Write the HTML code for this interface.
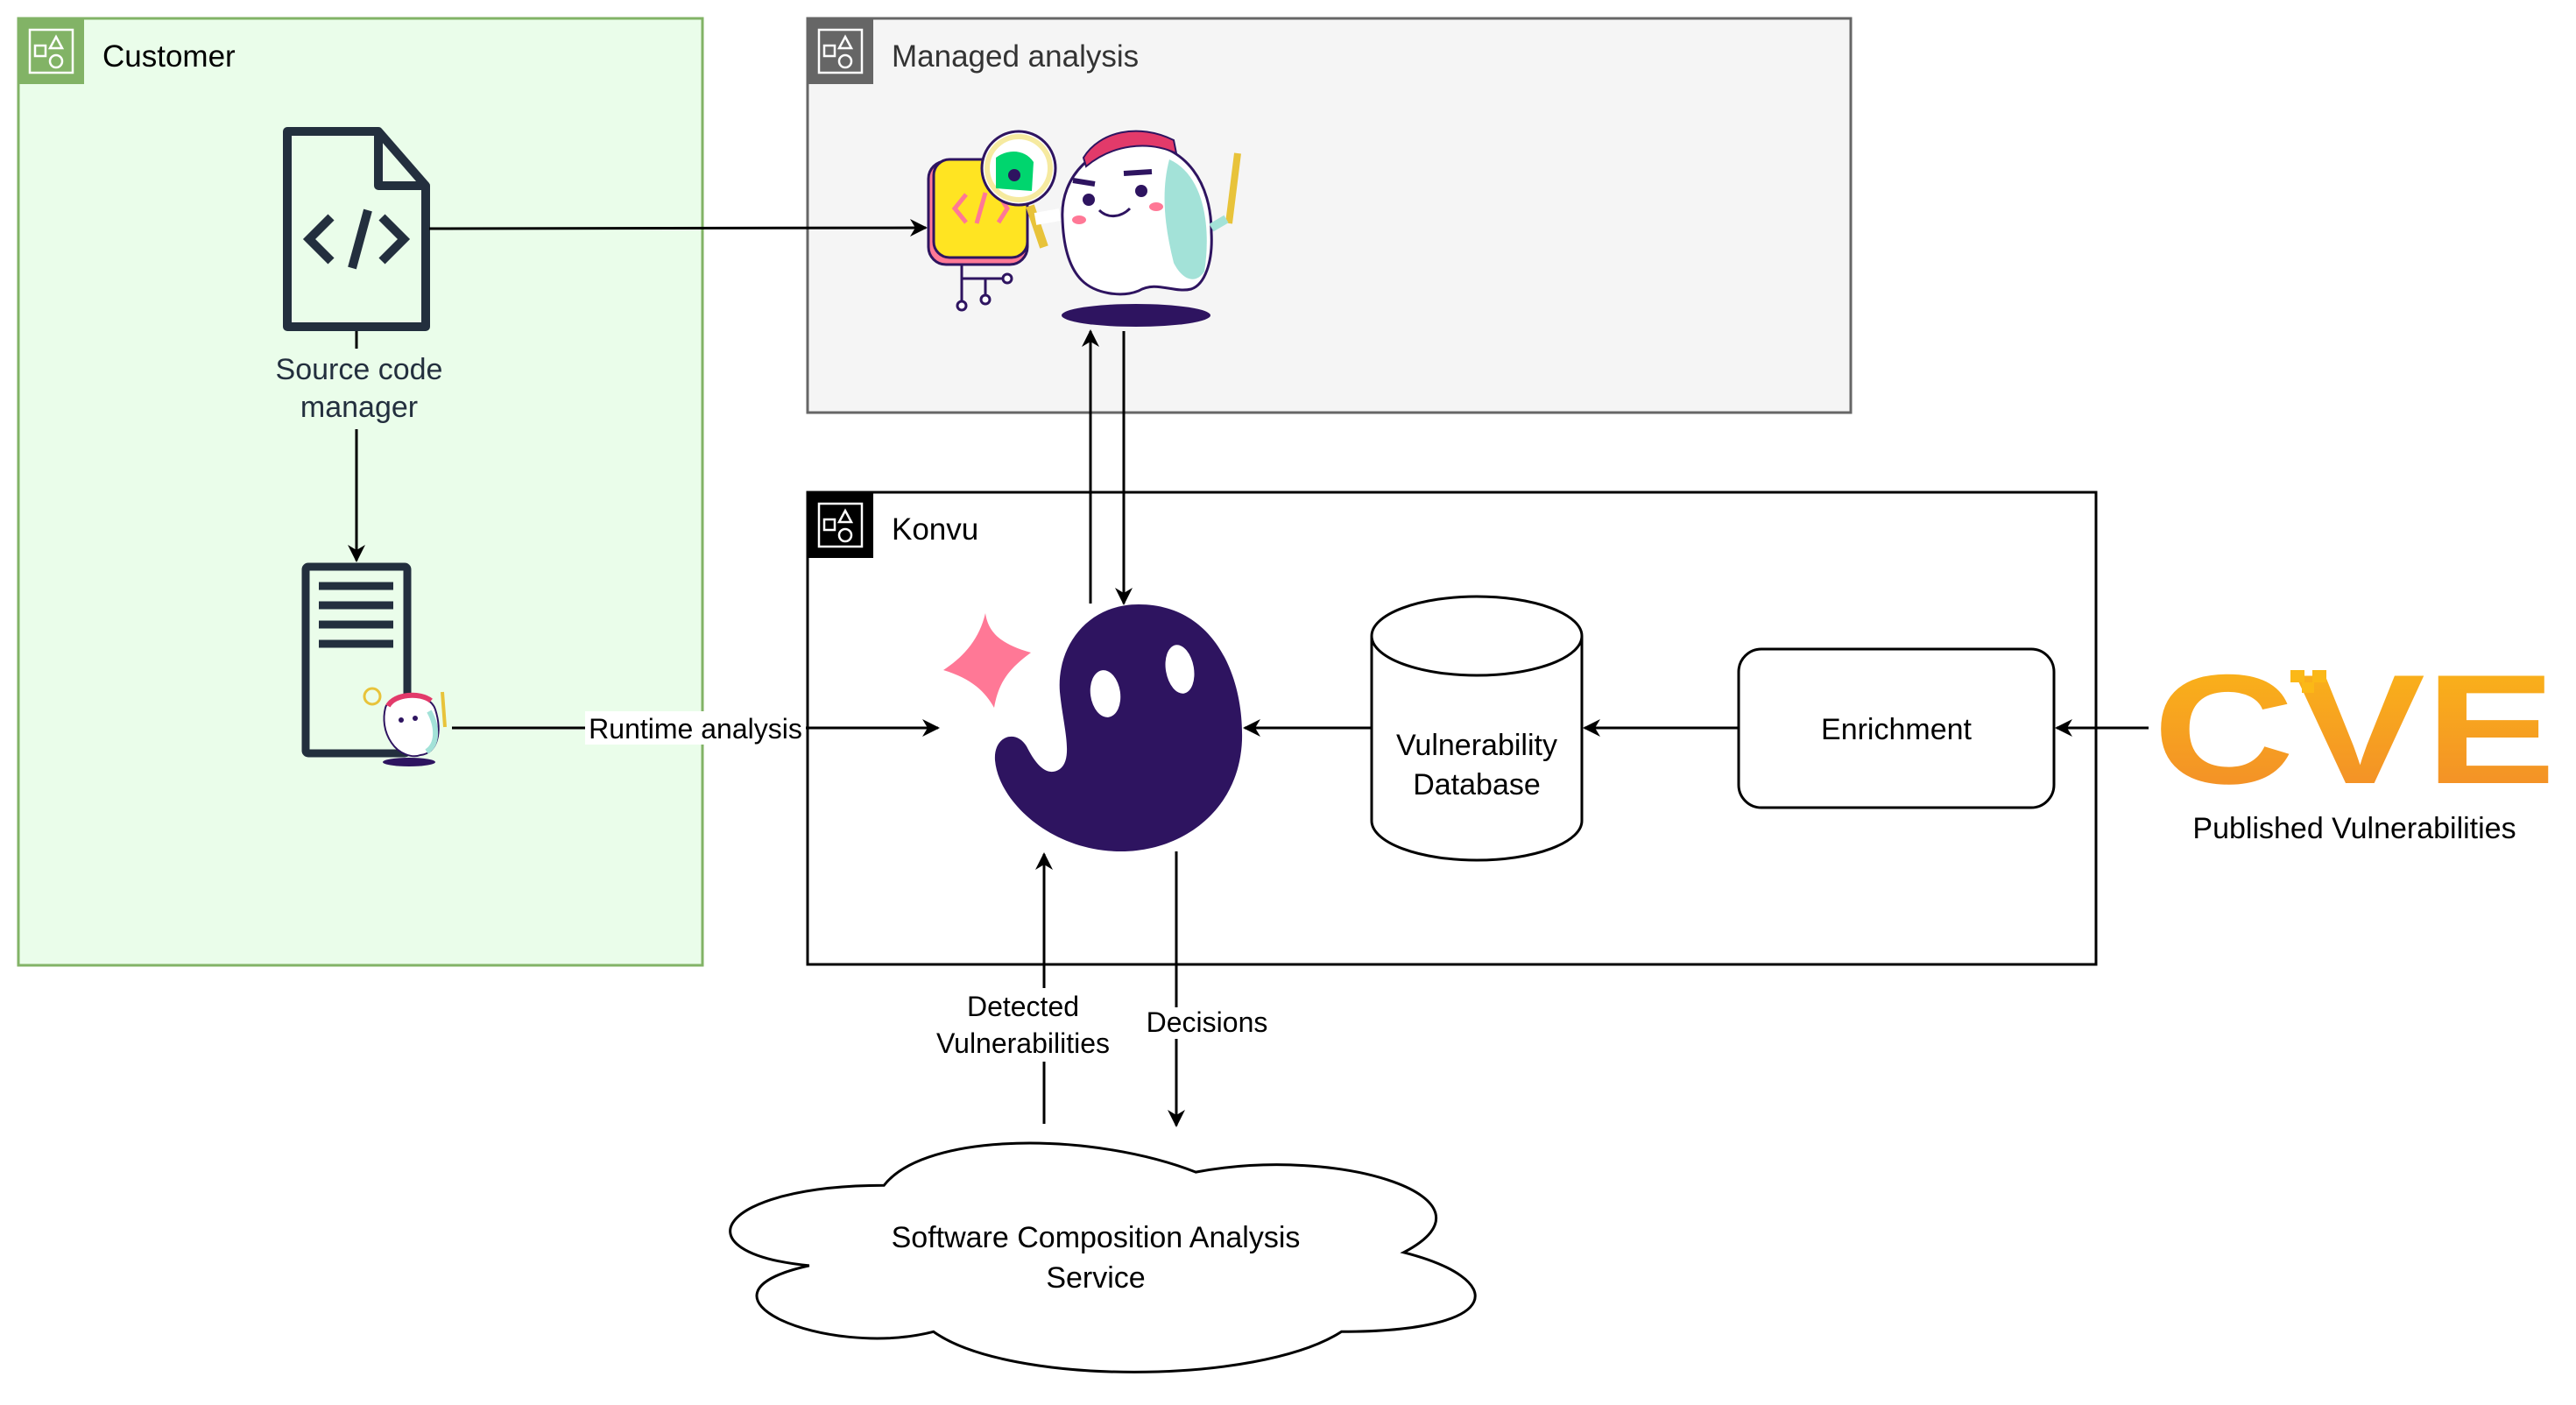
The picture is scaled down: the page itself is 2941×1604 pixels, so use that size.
<!DOCTYPE html>
<html><head><meta charset="utf-8"><style>
html,body{margin:0;padding:0;background:#fff;}
svg{display:block;}
text{font-family:"Liberation Sans",Arial,sans-serif;}
</style></head><body>
<svg width="2941" height="1604" viewBox="0 0 2941 1604" xmlns="http://www.w3.org/2000/svg">
<defs>
<marker id="ah" viewBox="0 0 20 20" refX="18" refY="10" markerWidth="20" markerHeight="20" markerUnits="userSpaceOnUse" orient="auto">
<path d="M0,0 L20,10 L0,20 L6,10 Z" fill="#000"/></marker>
<linearGradient id="cve" x1="0" y1="0" x2="0" y2="1"><stop offset="0" stop-color="#fbb817"/><stop offset="1" stop-color="#f28a2a"/></linearGradient>
</defs>

<!-- Customer group -->
<rect x="21" y="21" width="781" height="1081" fill="#eafdea" stroke="#82b366" stroke-width="3"/>
<rect x="21" y="21" width="75" height="75" fill="#82b366"/>
<g fill="none" stroke="#fff" stroke-width="2.5">
<rect x="34" y="34" width="49" height="49"/><rect x="40" y="52" width="12" height="12"/>
<path d="M64,42 L71,55 L57,55 Z"/><circle cx="64" cy="70" r="7"/></g>
<text x="117" y="76" font-size="35" fill="#000">Customer</text>

<!-- Managed analysis group -->
<rect x="922" y="21" width="1191" height="450" fill="#f5f5f5" stroke="#666" stroke-width="3" transform="translate(0,0)"/>
<rect x="922" y="21" width="75" height="75" fill="#666"/>
<g fill="none" stroke="#fff" stroke-width="2.5">
<rect x="935" y="34" width="49" height="49"/><rect x="941" y="52" width="12" height="12"/>
<path d="M965,42 L972,55 L958,55 Z"/><circle cx="965" cy="70" r="7"/></g>
<text x="1018" y="76" font-size="35" fill="#333">Managed analysis</text>

<!-- Konvu group -->
<rect x="922" y="562" width="1471" height="539" fill="#fff" stroke="#000" stroke-width="3"/>
<rect x="922" y="562" width="75" height="75" fill="#000"/>
<g fill="none" stroke="#fff" stroke-width="2.5">
<rect x="935" y="575" width="49" height="49"/><rect x="941" y="593" width="12" height="12"/>
<path d="M965,583 L972,596 L958,596 Z"/><circle cx="965" cy="611" r="7"/></g>
<text x="1018" y="616" font-size="35" fill="#000">Konvu</text>

<!-- Source code icon -->
<path d="M328,150 L432,150 L486,212 L486,373 L328,373 Z" fill="none" stroke="#232f3e" stroke-width="10" stroke-linejoin="round"/>
<path d="M432,150 L432,212 L486,212" fill="none" stroke="#232f3e" stroke-width="10" stroke-linejoin="round"/>
<path d="M378,248 L353,273 L378,298 M436,248 L461,273 L436,298 M420,240 L402,306" fill="none" stroke="#232f3e" stroke-width="10"/>
<rect x="308" y="398" width="204" height="92" fill="#eafdea"/>
<text x="410" y="433" font-size="34" fill="#232f3e" text-anchor="middle">Source code</text>
<text x="410" y="476" font-size="34" fill="#232f3e" text-anchor="middle">manager</text>
<line x1="407" y1="378" x2="407" y2="398" stroke="#000" stroke-width="3"/>
<line x1="407" y1="490" x2="407" y2="640" stroke="#000" stroke-width="3" marker-end="url(#ah)"/>

<!-- Server -->
<rect x="349" y="647" width="116" height="213" fill="none" stroke="#232f3e" stroke-width="9" rx="3"/>
<g stroke="#232f3e" stroke-width="9"><line x1="364" y1="669" x2="449" y2="669"/><line x1="364" y1="691" x2="449" y2="691"/><line x1="364" y1="713" x2="449" y2="713"/><line x1="364" y1="735" x2="449" y2="735"/></g>
<!-- small ghost -->
<ellipse cx="467" cy="870" rx="30" ry="5" fill="#2e1460"/>
<path d="M440,808 C445,790 490,788 497,810 C505,835 500,860 480,862 C470,866 455,860 447,848 C438,835 437,820 440,808 Z" fill="#fff" stroke="#2e1460" stroke-width="2"/>
<path d="M490,812 C500,830 500,850 487,858" fill="none" stroke="#a3e2d8" stroke-width="6"/>
<path d="M443,806 C450,792 480,790 492,800" fill="none" stroke="#e23a6a" stroke-width="6"/>
<circle cx="425" cy="795" r="9" fill="none" stroke="#e8c33a" stroke-width="3"/>
<circle cx="458" cy="822" r="3" fill="#2e1460"/><circle cx="474" cy="820" r="3" fill="#2e1460"/>
<line x1="505" y1="790" x2="508" y2="830" stroke="#e8c33a" stroke-width="4"/>

<!-- Runtime analysis arrow -->
<line x1="516" y1="831" x2="1071" y2="831" stroke="#000" stroke-width="3" marker-end="url(#ah)"/>
<rect x="668" y="812" width="252" height="38" fill="#fff"/>
<text x="794" y="843" font-size="32" fill="#000" text-anchor="middle">Runtime analysis</text>

<!-- Source -> managed -->
<line x1="490" y1="261" x2="1057" y2="260" stroke="#000" stroke-width="3" marker-end="url(#ah)"/>

<!-- Managed analysis illustration -->
<ellipse cx="1297" cy="360" rx="85" ry="13" fill="#2e1460"/>
<path d="M1098,302 L1098,345 M1098,318 L1150,318 M1125,318 L1125,338" stroke="#2e1460" stroke-width="3" fill="none"/>
<circle cx="1150" cy="318" r="5" fill="#fff" stroke="#2e1460" stroke-width="3"/>
<circle cx="1125" cy="342" r="5" fill="#fff" stroke="#2e1460" stroke-width="3"/>
<circle cx="1098" cy="349" r="5" fill="#fff" stroke="#2e1460" stroke-width="3"/>
<rect x="1060" y="184" width="113" height="118" rx="20" fill="#ff7896" stroke="#2e1460" stroke-width="3"/>
<rect x="1066" y="182" width="107" height="112" rx="18" fill="#ffe422" stroke="#2e1460" stroke-width="3"/>
<path d="M1103,222 L1090,238 L1103,254 M1125,220 L1115,255 M1140,222 L1150,238 L1140,254" fill="none" stroke="#ff7896" stroke-width="5"/>
<line x1="1176" y1="235" x2="1192" y2="282" stroke="#e8c33a" stroke-width="10"/>
<circle cx="1163" cy="192" r="42" fill="#fff" stroke="#2e1460" stroke-width="3"/>
<circle cx="1163" cy="192" r="36" fill="none" stroke="#f6eaa0" stroke-width="6"/>
<path d="M1137,180 C1150,170 1170,170 1180,185 L1178,218 L1137,215 Z" fill="#00d56e"/>
<circle cx="1158" cy="200" r="7" fill="#2e1460"/>
<path d="M1213,250 C1210,200 1250,163 1300,163 C1355,165 1383,210 1383,265 C1385,300 1375,325 1360,330 C1340,335 1320,320 1300,332 C1280,340 1250,335 1235,320 C1220,305 1214,280 1213,250 Z" fill="#fff" stroke="#2e1460" stroke-width="3"/>
<path d="M1335,182 C1375,200 1383,260 1375,310 C1365,325 1350,320 1340,300 C1330,260 1325,220 1335,182 Z" fill="#a3e2d8"/>
<path d="M1237,180 C1255,150 1300,140 1340,160 L1343,175 C1310,160 1270,165 1240,190 Z" fill="#e23a6a" stroke="#2e1460" stroke-width="2"/>
<circle cx="1243" cy="228" r="7" fill="#2e1460"/><circle cx="1303" cy="218" r="7" fill="#2e1460"/>
<path d="M1225,206 L1250,210 M1283,198 L1315,196" stroke="#2e1460" stroke-width="6"/>
<ellipse cx="1232" cy="251" rx="8" ry="5" fill="#ff7896"/><ellipse cx="1320" cy="236" rx="8" ry="5" fill="#ff7896"/>
<path d="M1255,240 C1265,250 1280,248 1290,238" fill="none" stroke="#2e1460" stroke-width="3"/>
<line x1="1413" y1="175" x2="1403" y2="255" stroke="#e8c33a" stroke-width="8"/>
<path d="M1383,260 L1400,250" stroke="#a3e2d8" stroke-width="10"/>
<path d="M1182,250 L1210,245" stroke="#fff" stroke-width="14"/>

<!-- vertical arrows managed <-> konvu -->
<line x1="1245" y1="689" x2="1245" y2="378" stroke="#000" stroke-width="3" marker-end="url(#ah)"/>
<line x1="1283" y1="378" x2="1283" y2="689" stroke="#000" stroke-width="3" marker-end="url(#ah)"/>

<!-- Big ghost -->
<path d="M1125,700 C1128,720 1140,735 1177,745 C1150,765 1140,780 1135,808 C1125,790 1110,775 1077,765 C1100,750 1118,730 1125,700 Z" fill="#ff7896"/>
<path d="M1300,690 C1385,690 1420,770 1418,845 C1415,925 1350,972 1280,972 C1200,972 1140,915 1136,868 C1134,840 1160,832 1172,852 C1182,872 1195,888 1210,878 C1226,866 1214,830 1210,790 C1206,740 1240,690 1300,690 Z" fill="#2e1460"/>
<ellipse cx="1262" cy="792" rx="17" ry="27" fill="#fff" transform="rotate(-8 1262 792)"/>
<ellipse cx="1347" cy="764" rx="16" ry="28" fill="#fff" transform="rotate(-10 1347 764)"/>

<!-- DB cylinder -->
<path d="M1566,726 L1566,937 A120,45 0 0 0 1806,937 L1806,726" fill="#fff" stroke="#000" stroke-width="3"/>
<ellipse cx="1686" cy="726" rx="120" ry="45" fill="#fff" stroke="#000" stroke-width="3"/>
<text x="1686" y="862" font-size="34" text-anchor="middle">Vulnerability</text>
<text x="1686" y="907" font-size="34" text-anchor="middle">Database</text>
<line x1="1566" y1="831" x2="1421" y2="831" stroke="#000" stroke-width="3" marker-end="url(#ah)"/>

<!-- Enrichment -->
<rect x="1985" y="741" width="360" height="181" rx="26" fill="#fff" stroke="#000" stroke-width="3"/>
<text x="2165" y="844" font-size="34" text-anchor="middle">Enrichment</text>
<line x1="1985" y1="831" x2="1809" y2="831" stroke="#000" stroke-width="3" marker-end="url(#ah)"/>
<line x1="2453" y1="831" x2="2348" y2="831" stroke="#000" stroke-width="3" marker-end="url(#ah)"/>

<!-- CVE logo -->
<text x="2458" y="894" font-size="178" font-weight="bold" fill="url(#cve)" textLength="460" lengthAdjust="spacingAndGlyphs">CVE</text>
<rect x="2615" y="765" width="16" height="14" fill="#fbb817"/><rect x="2640" y="765" width="16" height="14" fill="#fbb817"/><rect x="2628" y="779" width="14" height="12" fill="#fbb817"/>
<text x="2688" y="957" font-size="34" text-anchor="middle">Published Vulnerabilities</text>

<!-- Detected vulnerabilities / decisions -->
<line x1="1192" y1="1283" x2="1192" y2="975" stroke="#000" stroke-width="3" marker-end="url(#ah)"/>
<rect x="1062" y="1128" width="215" height="84" fill="#fff"/>
<text x="1168" y="1160" font-size="32" text-anchor="middle">Detected</text>
<text x="1168" y="1202" font-size="32" text-anchor="middle">Vulnerabilities</text>
<line x1="1343" y1="972" x2="1343" y2="1285" stroke="#000" stroke-width="3" marker-end="url(#ah)"/>
<rect x="1303" y="1150" width="146" height="36" fill="#fff"/>
<text x="1378" y="1178" font-size="32" text-anchor="middle">Decisions</text>

<!-- Cloud -->
<path d="M1048,1374 C877,1374 834,1440 971,1453 C834,1482 988,1545 1099,1518 C1176,1571 1433,1571 1519,1518 C1690,1518 1690,1466 1583,1440 C1690,1387 1519,1334 1369,1361 C1262,1321 1091,1321 1048,1374 Z" fill="#fff" stroke="#000" stroke-width="3" vector-effect="non-scaling-stroke" transform="matrix(1.109 0 0 1.16 -153 -240.6)"/>
<text x="1251" y="1424" font-size="34" text-anchor="middle">Software Composition Analysis</text>
<text x="1251" y="1470" font-size="34" text-anchor="middle">Service</text>
</svg>
</body></html>
